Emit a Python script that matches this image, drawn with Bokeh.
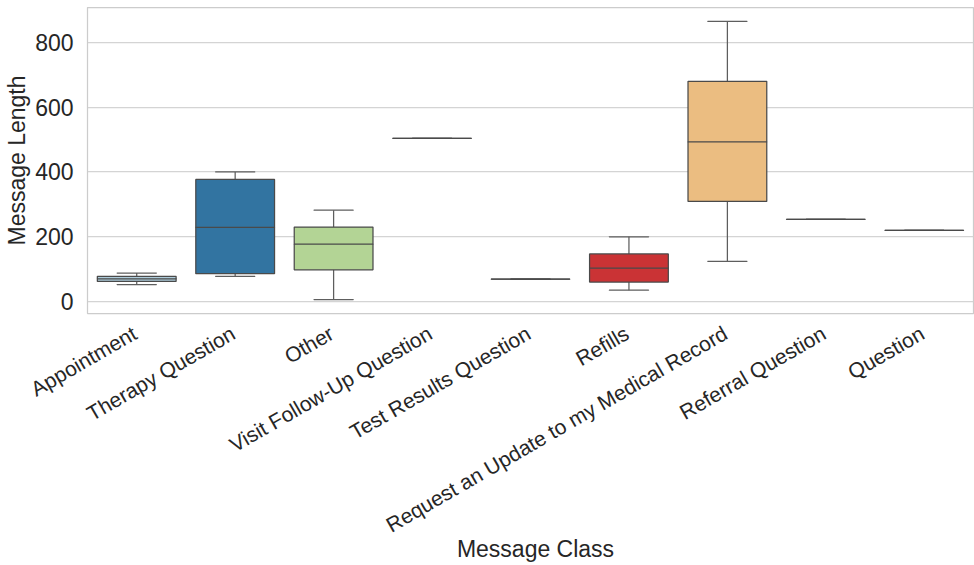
import math
from bokeh.plotting import figure
from bokeh.layouts import column
from bokeh.models import ColumnDataSource, FixedTicker, Range1d
from bokeh.core.properties import value
from bokeh.embed import file_html
from bokeh.resources import INLINE

categories = ["Appointment", "Therapy Question", "Other", "Visit Follow-Up Question",
              "Test Results Question", "Refills", "Request an Update to my Medical Record",
              "Referral Question", "Question"]
whisker_low = [52, 78, 6, 504, 69, 35, 124, 254, 220]
q1 = [62, 86, 98, 504, 69, 60, 309, 254, 220]
median = [70, 229, 177, 504, 69, 103, 493, 254, 220]
q3 = [78, 377, 230, 504, 69, 147, 680, 254, 220]
whisker_high = [88, 400, 282, 504, 69, 200, 865, 254, 220]
colors = ["#aeccdb", "#3274a1", "#b3d495", "#40913b", "#e6a3a2",
          "#ca3335", "#ebbd81", "#e88b2e", "#c3b4cf"]
y_ticks = [0, 200, 400, 600, 800]
x_title = "Message Class"
y_title = "Message Length"

FONT = "Liberation Sans"
TEXT = "#262626"
EDGE = "#4a4a4a"
WHISK = "#5e5e5e"
W = 974
H_TOP = 317
H_BOT = 248
LEFT = 87
RIGHT = 1
N = len(categories)

src = ColumnDataSource(dict(cat=categories, lo=whisker_low, q1=q1, med=median,
                            q3=q3, hi=whisker_high, color=colors,
                            pos=[i + 0.5 for i in range(N)]))

p = figure(x_range=categories, y_range=(-37, 908), width=W, height=H_TOP,
           output_backend="svg", toolbar_location=None,
           min_border_left=LEFT, min_border_right=RIGHT, min_border_top=7, min_border_bottom=4)
p.frame_align = False

p.segment(x0="cat", y0="q3", x1="cat", y1="hi", source=src, line_color=WHISK, line_width=1.25)
p.segment(x0="cat", y0="lo", x1="cat", y1="q1", source=src, line_color=WHISK, line_width=1.25)
p.rect(x="cat", y="hi", width=0.4, height=0.001, source=src, line_color=WHISK,
       line_width=1.25, fill_color=None)
p.rect(x="cat", y="lo", width=0.4, height=0.001, source=src, line_color=WHISK,
       line_width=1.25, fill_color=None)
p.vbar(x="cat", bottom="q1", top="q3", width=0.8, source=src, fill_color="color",
       line_color=EDGE, line_width=1.25)
p.rect(x="cat", y="med", width=0.8, height=0.001, source=src, line_color=EDGE,
       line_width=1.25, fill_color=None)

p.xgrid.grid_line_color = None
p.ygrid.grid_line_color = "#d4d4d4"
p.ygrid.grid_line_width = 1.25
p.outline_line_color = "#cccccc"
p.outline_line_width = 1.25
p.border_fill_color = "white"
p.xaxis.visible = False

p.yaxis.ticker = FixedTicker(ticks=y_ticks)
ax = p.yaxis
ax.axis_line_color = "#cccccc"
ax.major_tick_line_color = None
ax.minor_tick_line_color = None
ax.major_label_text_font = FONT
ax.major_label_text_color = TEXT
ax.major_label_text_font_size = "23px"
ax.major_label_standoff = 8
ax.axis_label = y_title
ax.axis_label_text_font = FONT
ax.axis_label_text_color = TEXT
ax.axis_label_text_font_style = "normal"
ax.axis_label_text_font_size = "23px"
ax.axis_label_standoff = 2

# lower strip carrying the category labels and the x title (frame spans full width)
frame_w = W - LEFT - RIGHT
p2 = figure(x_range=Range1d(-LEFT * N / frame_w, N + RIGHT * N / frame_w),
            y_range=Range1d(0, H_BOT), width=W, height=H_BOT,
            output_backend="svg", toolbar_location=None,
            min_border_left=0, min_border_right=0, min_border_top=0, min_border_bottom=0)
p2.frame_align = False
p2.xaxis.visible = False
p2.yaxis.visible = False
p2.grid.visible = False
p2.outline_line_color = None
p2.border_fill_color = "white"

p2.text(x="pos", y=H_BOT - 14, text="cat", source=src, angle=math.pi / 6, x_offset=-2,
        text_align="right", text_baseline="middle", text_font=value(FONT),
        text_font_size="21px", text_color=TEXT)
p2.text(x=[N / 2], y=[H_BOT - 231], text=[x_title], x_offset=5,
        text_align="center", text_baseline="middle", text_font=value(FONT),
        text_font_size="23px", text_color=TEXT)

layout = column(p, p2, spacing=0)
open("out.html", "w").write(file_html(layout, INLINE))
